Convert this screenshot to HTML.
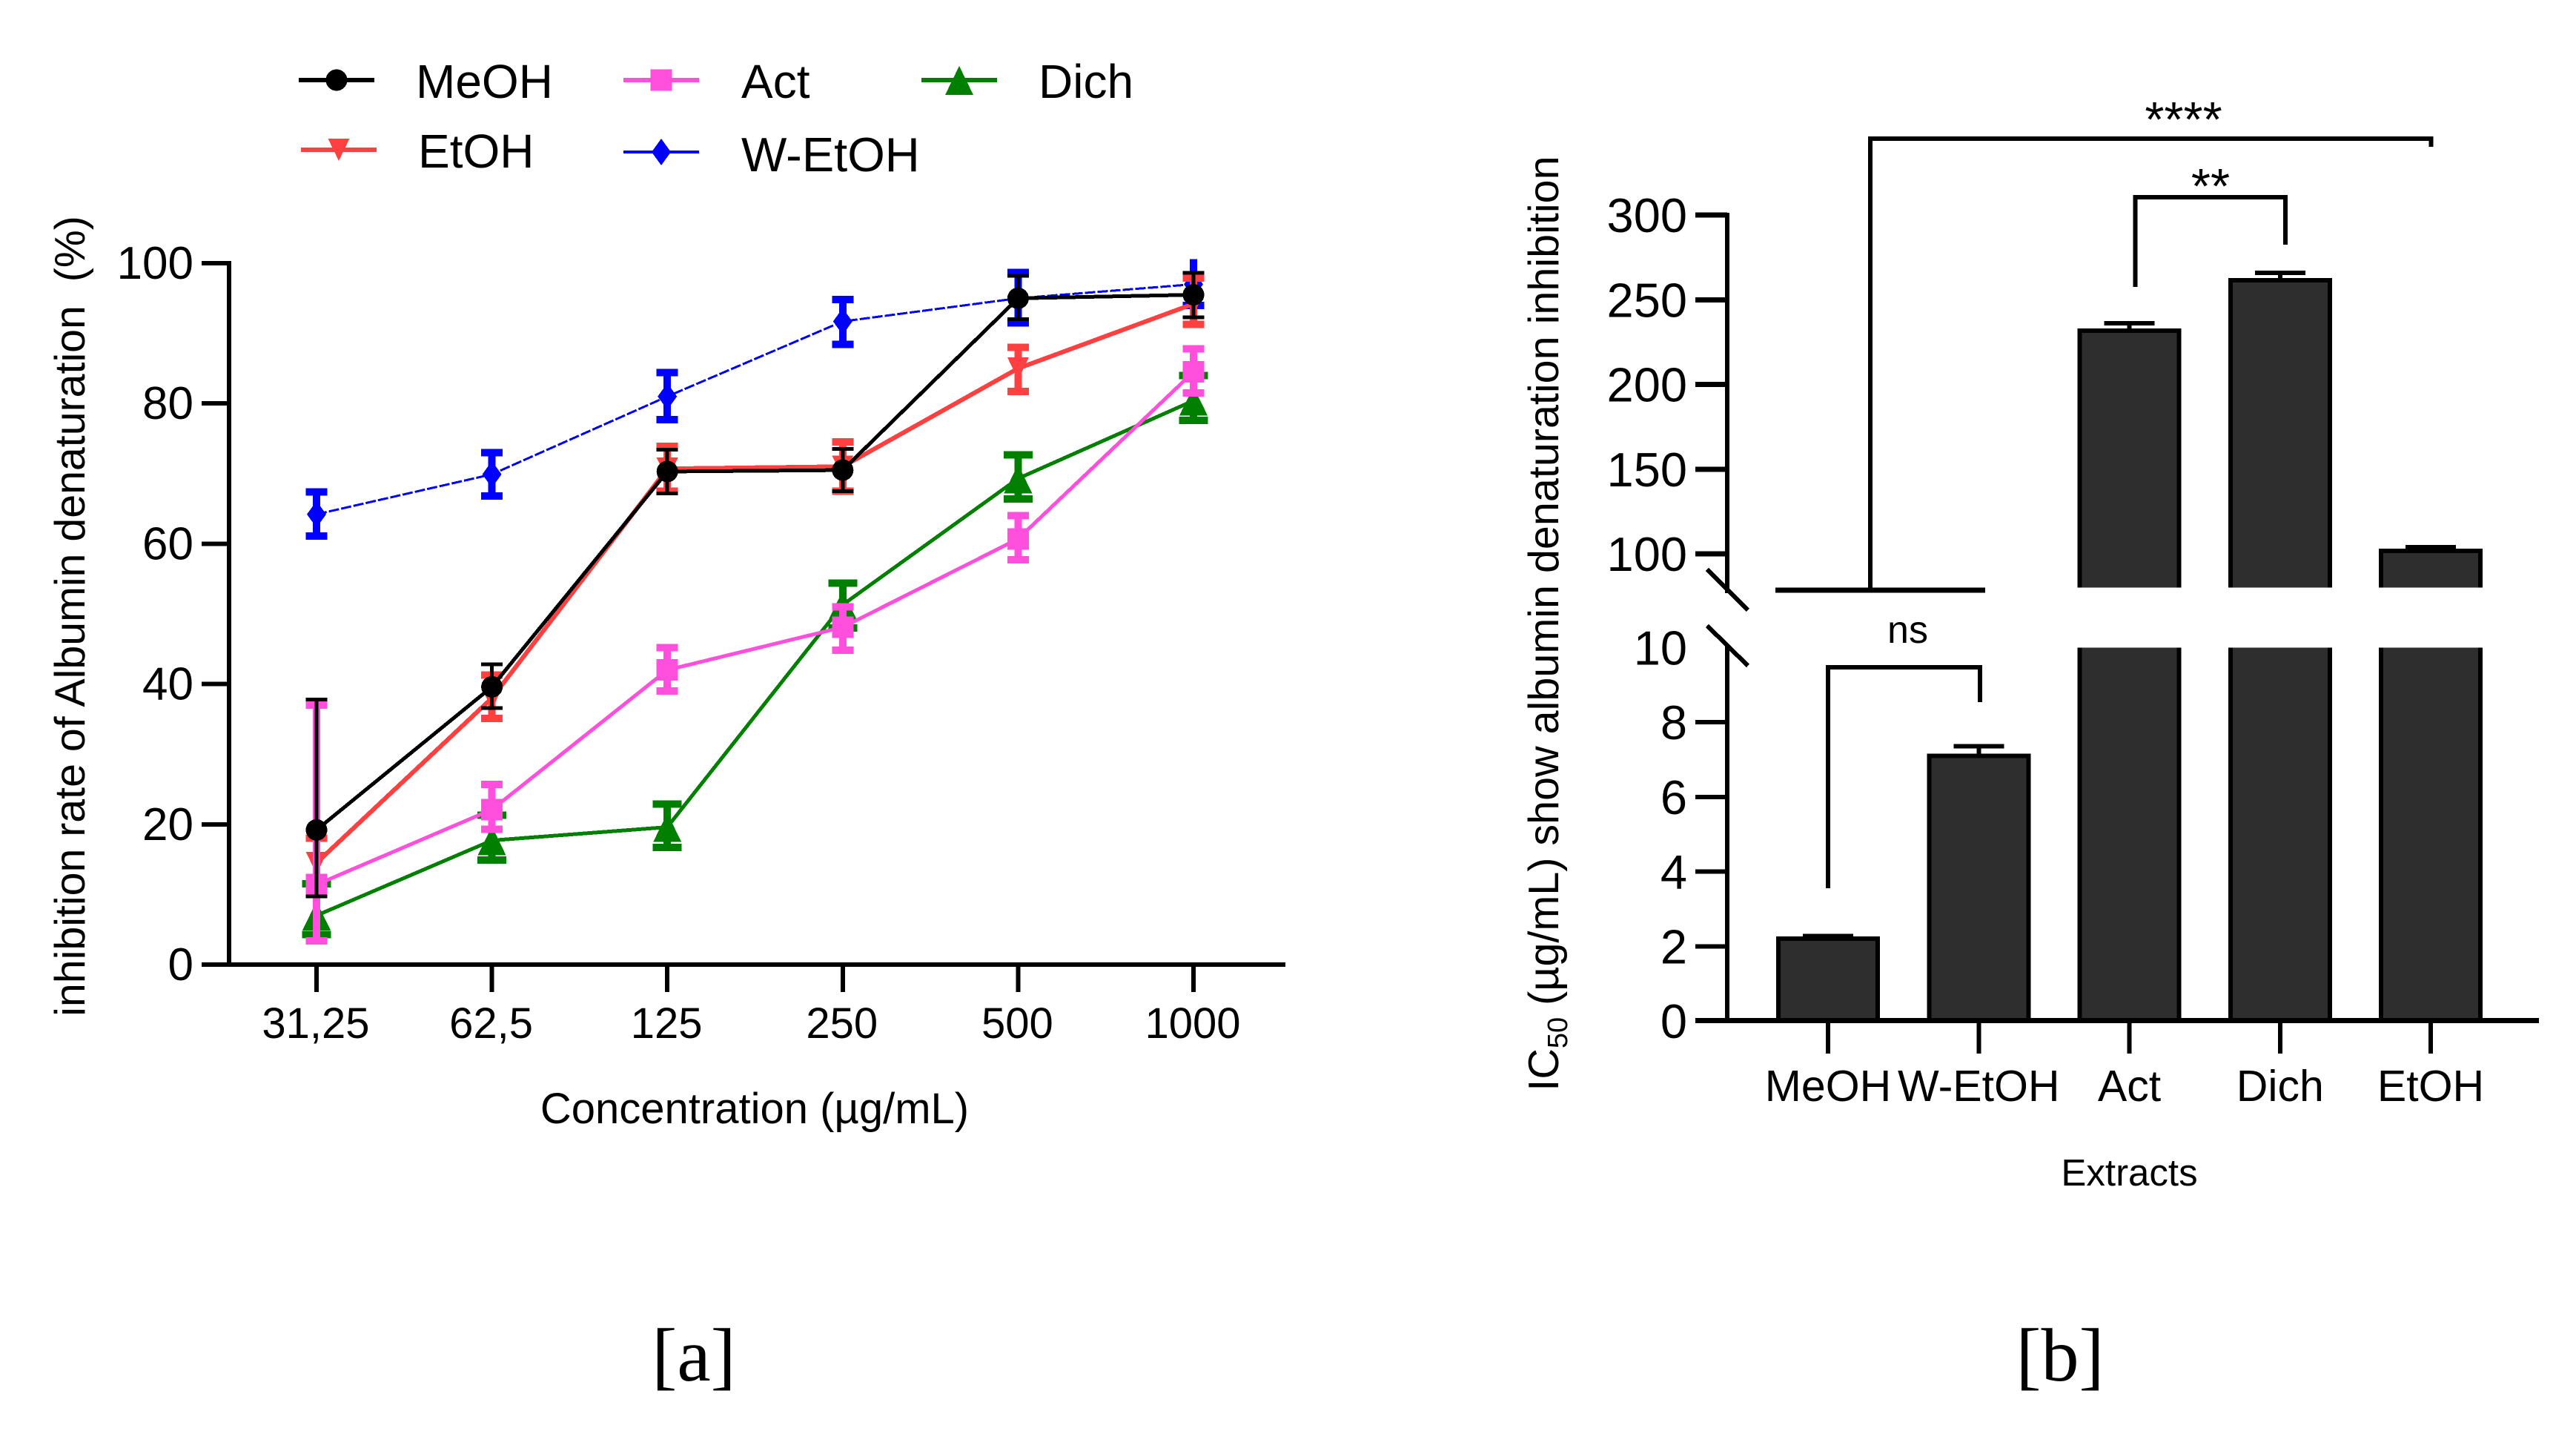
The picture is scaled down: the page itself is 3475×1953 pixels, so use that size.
<!DOCTYPE html>
<html lang="en">
<head>
<meta charset="utf-8">
<title>Albumin denaturation inhibition</title>
<style>
html,body{margin:0;padding:0;background:#fff}
svg{display:block}
text{font-family:"Liberation Sans",sans-serif;fill:#000}
.serif{font-family:"Liberation Serif",serif}
</style>
</head>
<body>
<svg id="fig" xmlns="http://www.w3.org/2000/svg" width="3475" height="1953" viewBox="0 0 3475 1953" shape-rendering="crispEdges">
  <rect x="0" y="0" width="3475" height="1953" fill="#fff"/>
  <g id="chartA"></g>
  <g id="legendA"></g>
  <g id="chartB"></g>

  <text transform="translate(114 831) rotate(-90)" text-anchor="middle" font-size="57.3" xml:space="preserve">inhibition rate of Albumin denaturation  (%)</text>
  <text x="1018" y="1515" text-anchor="middle" font-size="58">Concentration (µg/mL)</text>
  <text transform="translate(2102 841) rotate(-90)" text-anchor="middle" font-size="57.5">IC<tspan font-size="38" dy="12">50</tspan><tspan dy="-12"> (µg/mL) show albumin denaturation inhibition</tspan></text>
  <text x="2872.5" y="1599" text-anchor="middle" font-size="51">Extracts</text>
  <text x="2945.5" y="184" text-anchor="middle" font-size="67">****</text>
  <text x="2982" y="274" text-anchor="middle" font-size="67">**</text>
  <text x="2573.5" y="867" text-anchor="middle" font-size="52">ns</text>
  <text class="serif" x="936" y="1862" text-anchor="middle" font-size="102">[a]</text>
  <text class="serif" x="2779" y="1862" text-anchor="middle" font-size="102">[b]</text>
</svg>
<script>
// ---- Chart A data ----
const concentrations = ['31,25', '62,5', '125', '250', '500', '1000'];
const yTicksA = [0, 20, 40, 60, 80, 100];

const meohMean = [19.2, 39.6, 70.3, 70.5, 95, 95.5];
const meohLow = [9.7, 36.6, 67.2, 67.5, 92, 92.3];
const meohHigh = [37.8, 42.8, 73.4, 73.5, 98.2, 98.6];

const etohMean = [14.5, 38, 70.7, 71, 85, 94.2];
const etohLow = [11, 35.1, 67.5, 67.5, 81.7, 91.3];
const etohHigh = [18, 41.3, 73.9, 74.5, 88, 97.9];

const actMean = [11.4, 22.1, 42, 48.1, 60.7, 84.5];
const actLow = [3.4, 19.3, 39, 44.8, 57.7, 81.5];
const actHigh = [37, 25.7, 45.2, 51, 64, 87.8];

const wetohMean = [64.2, 69.9, 81, 91.7, 95, 97];
const wetohLow = [61.1, 66.8, 77.7, 88.4, 91.5, 94];
const wetohHigh = [67.4, 73, 84.4, 94.8, 98.7, 100.6];

const dichMean = [7, 17.7, 19.6, 51.3, 69.3, 80.4];
const dichLow = [4.3, 14.9, 16.7, 48, 66.4, 77.6];
const dichHigh = [11.5, 21.3, 22.9, 54.4, 72.7, 84];

// ---- Chart B data ----
const extracts = ['MeOH', 'W-EtOH', 'Act', 'Dich', 'EtOH'];
const ic50Values = [2.2, 7.1, 231.7, 261.5, 101.7];
const ic50Upper = [2.27, 7.35, 236, 265.9, 104];
const yTicksLower = [0, 2, 4, 6, 8, 10];
const yTicksUpper = [100, 150, 200, 250, 300];

const NS = 'http://www.w3.org/2000/svg';
function mk(parent, tag, attrs, txt) {
  const el = document.createElementNS(NS, tag);
  for (const k in attrs) el.setAttribute(k, attrs[k]);
  if (txt !== undefined) el.textContent = txt;
  parent.appendChild(el);
  return el;
}
function line(parent, x1, y1, x2, y2, color, w, name) {
  const el = mk(parent, 'line', {x1: x1, y1: y1, x2: x2, y2: y2, stroke: color, 'stroke-width': w});
  
  
  return el;
}

// ---- axes for chart A ----
const xA = i => 427 + 236.6 * i;
const yA = v => 1301 - 9.46 * v;
const gA = document.getElementById('chartA');

line(gA, 309, yA(100) - 3, 309, 1304, '#000', 6, 'y-axis-a');
line(gA, 272, 1301, 1734, 1301, '#000', 6, 'x-axis-a');
yTicksA.forEach(v => {
  line(gA, 272, yA(v), 309, yA(v), '#000', 6, 'y-tick-a');
  const t = mk(gA, 'text', {x: 261, y: yA(v) + 21, 'text-anchor': 'end', 'font-size': 62}, String(v));
  
  
});
concentrations.forEach((c, i) => {
  line(gA, xA(i), 1301, xA(i), 1338, '#000', 6, 'x-tick-a');
  const t = mk(gA, 'text', {x: xA(i) - 1, y: 1400, 'text-anchor': 'middle', 'font-size': 58}, c);
  
  
});

// ---- markers ----
function marker(parent, kind, cx, cy, color, name) {
  let el;
  if (kind === 'circle') {
    el = mk(parent, 'circle', {cx: cx, cy: cy, r: 14.5, fill: color});
  } else if (kind === 'square') {
    el = mk(parent, 'rect', {x: cx - 14.5, y: cy - 14.5, width: 29, height: 29, fill: color});
  } else if (kind === 'down') {
    el = mk(parent, 'polygon', {points: [cx - 14.5, cy - 15, cx + 14.5, cy - 15, cx, cy + 15].join(','), fill: color});
  } else if (kind === 'up') {
    el = mk(parent, 'polygon', {points: [cx - 19, cy + 20, cx + 19, cy + 20, cx, cy - 19].join(','), fill: color});
  } else {
    el = mk(parent, 'polygon', {points: [cx, cy - 18, cx + 13, cy, cx, cy + 18, cx - 13, cy].join(','), fill: color});
  }
  
  
  return el;
}

// ---- series (bottom to top) ----
const series = [
  {name: 'dich', color: '#007f00', mean: dichMean, low: dichLow, high: dichHigh, kind: 'up', lw: 5, stem: 10, capW: 39, capH: 10},
  {name: 'w-etoh', color: '#0000ff', mean: wetohMean, low: wetohLow, high: wetohHigh, kind: 'diamond', lw: 3, stem: 10, capW: 29, capH: 10, dash: '14 3'},
  {name: 'etoh', color: '#ff4040', mean: etohMean, low: etohLow, high: etohHigh, kind: 'down', lw: 6, stem: 10, capW: 29, capH: 10},
  {name: 'act', color: '#ff4fdc', mean: actMean, low: actLow, high: actHigh, kind: 'square', lw: 5, stem: 10, capW: 29, capH: 10},
  {name: 'meoh', color: '#000000', mean: meohMean, low: meohLow, high: meohHigh, kind: 'circle', lw: 5, stem: 5, capW: 29, capH: 5}
];
series.forEach(s => {
  const g = mk(gA, 'g', {});
  
  
  s.mean.forEach((v, i) => {
    line(g, xA(i), yA(s.low[i]), xA(i), yA(s.high[i]), s.color, s.stem, 'error-bar-' + s.name);
    line(g, xA(i) - s.capW / 2, yA(s.low[i]), xA(i) + s.capW / 2, yA(s.low[i]), s.color, s.capH, 'error-cap-low-' + s.name);
    // caps beyond the axis maximum are clipped in the plot
    if (s.high[i] < 100) line(g, xA(i) - s.capW / 2, yA(s.high[i]), xA(i) + s.capW / 2, yA(s.high[i]), s.color, s.capH, 'error-cap-high-' + s.name);
  });
  const attrs = {points: s.mean.map((v, i) => xA(i) + ',' + yA(v)).join(' '), fill: 'none', stroke: s.color, 'stroke-width': s.lw};
  if (s.dash) attrs['stroke-dasharray'] = s.dash;
  const pl = mk(g, 'polyline', attrs);
  
  
  s.mean.forEach((v, i) => marker(g, s.kind, xA(i), yA(v), s.color, 'point-' + s.name));
});

// ---- legend ----
const legendNames = ['MeOH', 'EtOH', 'Act', 'W-EtOH', 'Dich'];
const legendKinds = ['circle', 'down', 'square', 'diamond', 'up'];
const legendColors = ['#000000', '#ff4040', '#ff4fdc', '#0000ff', '#007f00'];
const legendSlots = [[403, 108, 561, 132, 64], [406, 202, 564, 226, 64], [841, 108, 1000, 132, 64], [841, 205, 1000, 231, 65], [1243, 108, 1401, 132, 64]];
const gL = document.getElementById('legendA');
legendNames.forEach((n, i) => {
  const p = legendSlots[i];
  const g = mk(gL, 'g', {});
  
  
  line(g, p[0], p[1], p[0] + 102, p[1], legendColors[i], legendNames[i] === 'W-EtOH' ? 4 : 6, 'legend-line');
  marker(g, legendKinds[i], p[0] + 51, p[1], legendColors[i], 'legend-marker');
  const t = mk(g, 'text', {x: p[2], y: p[3], 'font-size': p[4]}, n);
  
  
});

// ---- axes for chart B ----
const xB = i => 2466 + 203.25 * i;
const yB = v => v <= 10 ? 1377 - 50.375 * v : 290 + (300 - v) * 2.285;
const yBreakTop = yB(80);
const barW = 140;
const gB = document.getElementById('chartB');

const boxColor = '#2e2e2e';
extracts.forEach((name, i) => {
  const v = ic50Values[i];
  const x0 = xB(i) - barW / 2, x1 = xB(i) + barW / 2;
  const g = mk(gB, 'g', {});
  
  
  const topLow = yB(Math.min(v, 10));
  const r = mk(g, 'rect', {x: x0, y: topLow, width: barW, height: 1377 - topLow, fill: boxColor});
  
  
  line(g, x0 + 3, topLow, x0 + 3, 1377, '#000', 6, 'bar-edge');
  line(g, x1 - 3, topLow, x1 - 3, 1377, '#000', 6, 'bar-edge');
  if (v <= 10) line(g, x0, topLow, x1, topLow, '#000', 6, 'bar-top');
  if (v > 10) {
    const tu = yB(v);
    const ru = mk(g, 'rect', {x: x0, y: tu, width: barW, height: yBreakTop - tu, fill: boxColor});
    
    
    line(g, x0 + 3, tu, x0 + 3, yBreakTop, '#000', 6, 'bar-edge');
    line(g, x1 - 3, tu, x1 - 3, yBreakTop, '#000', 6, 'bar-edge');
    line(g, x0, tu, x1, tu, '#000', 6, 'bar-top');
  }
  line(g, xB(i), yB(v), xB(i), yB(ic50Upper[i]), '#000', 6, 'bar-error');
  line(g, xB(i) - 34, yB(ic50Upper[i]), xB(i) + 34, yB(ic50Upper[i]), '#000', 6, 'bar-error-cap');
  line(gB, xB(i), 1377, xB(i), 1421, '#000', 6, 'x-tick-b');
  const t = mk(gB, 'text', {x: xB(i), y: 1485, 'text-anchor': 'middle', 'font-size': 59}, name);
  
  
});

line(gB, 2330, yB(300) - 3, 2330, 800, '#000', 6, 'y-axis-upper');
line(gB, 2330, 872, 2330, 1377, '#000', 6, 'y-axis-lower');
line(gB, 2303, 768, 2358, 823, '#000', 6, 'axis-break-upper');
line(gB, 2303, 844, 2358, 898, '#000', 6, 'axis-break-lower');
line(gB, 2287, 1376.5, 3425, 1376.5, '#000', 7, 'x-axis-b');
yTicksUpper.forEach(v => {
  line(gB, 2287, yB(v), 2330, yB(v), '#000', 7, 'y-tick-upper');
  const t = mk(gB, 'text', {x: 2276, y: yB(v) + 23, 'text-anchor': 'end', 'font-size': 65}, String(v));
  
  
});
yTicksLower.forEach(v => {
  if (v < 10) line(gB, 2287, yB(v), 2330, yB(v), '#000', 6, 'y-tick-lower');
  const t = mk(gB, 'text', {x: 2276, y: yB(v) + 23, 'text-anchor': 'end', 'font-size': 65}, String(v));
  
  
});

// ---- significance brackets ----
line(gB, 2395, 796, 2678, 796, '#000', 7, 'significance-base-line');
function bracket(d, w, name) {
  const el = mk(gB, 'path', {d: d, fill: 'none', stroke: '#000', 'stroke-width': w});
  
  
}
bracket('M2523 796V187H3279.5V198', 6, 'bracket-all');
bracket('M2880.5 387V266H3083V330', 6, 'bracket-act-dich');
bracket('M2466 1198V900H2671V947', 6, 'bracket-ns');
</script>
</body>
</html>
